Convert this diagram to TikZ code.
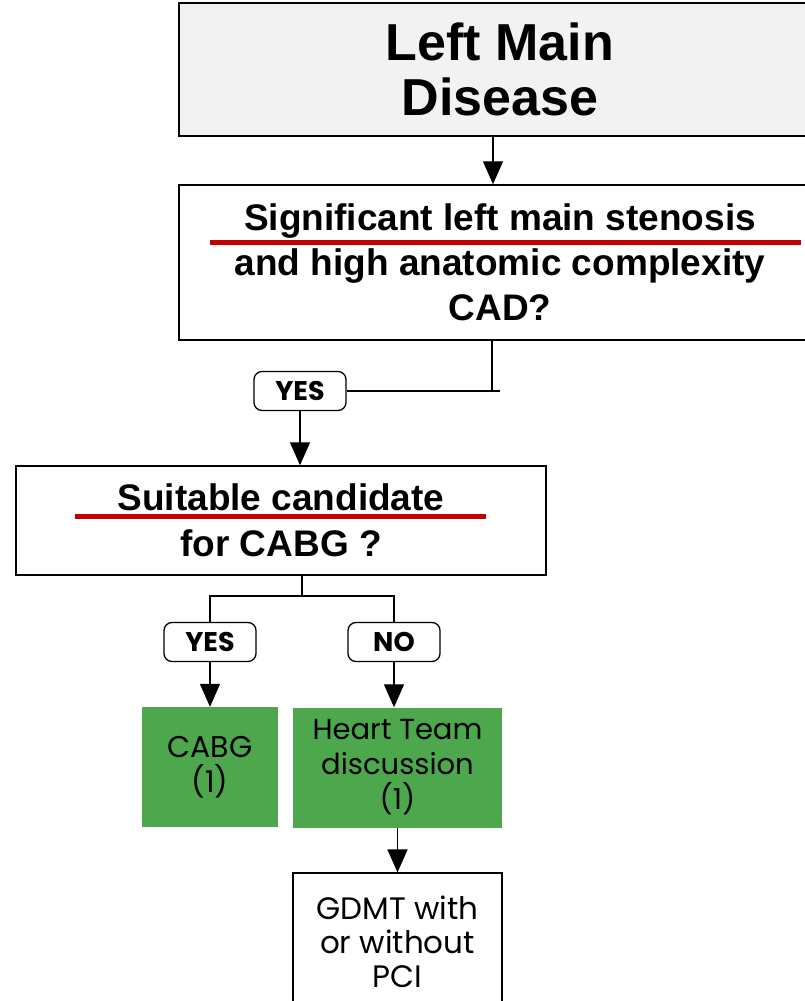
\documentclass[tikz,border=0pt]{standalone}
\usepackage{fontspec}
\setmainfont{Liberation Sans}
\newfontfamily\popfont{Poppins}
\usetikzlibrary{arrows.meta}
\definecolor{boxgray}{HTML}{F2F2F2}
\definecolor{boxgreen}{HTML}{4DA84D}
\definecolor{markred}{HTML}{C00000}
\tikzset{
  qbox/.style={draw, line width=1.5pt, align=center, inner sep=0pt,
    font=\bfseries\fontsize{37}{45}\selectfont},
  ansbox/.style={draw, line width=1.3pt, rounded corners=8pt, minimum width=92pt,
    minimum height=39pt, inner sep=0pt, font=\popfont\bfseries\fontsize{27}{30}\selectfont},
  greenbox/.style={fill=boxgreen, minimum height=120pt, align=center, inner sep=0pt,
    font=\popfont\fontsize{30}{35}\selectfont},
  arrow/.style={line width=1.3pt, -{Triangle[width=20pt,length=23pt]}},
  link/.style={line width=1.3pt},
  redline/.style={markred, line width=5pt}
}
\begin{document}
\begin{tikzpicture}[x=1pt, y=-1pt]
  \useasboundingbox (0,0) rectangle (805,1001);
  \clip (0,0) rectangle (805,1001);
  % Question boxes
  \node[qbox, fill=boxgray, minimum width=642pt, minimum height=133pt,
    font=\bfseries\fontsize{52}{55}\selectfont] (lmd) at (500,69.5) {Left Main\\Disease};
  \node[qbox, minimum width=642pt, minimum height=155pt] (stenosis) at (500,262.5)
    {Significant left main stenosis\\and high anatomic complexity\\CAD?};
  \node[ansbox] (yes1) at (300,391) {YES};
  \node[qbox, minimum width=530pt, minimum height=109pt,
    font=\bfseries\fontsize{37}{46}\selectfont] (suitable) at (281,520.5)
    {Suitable candidate\\for CABG ?};
  % Answers
  \node[ansbox] (yes2) at (210,642) {YES};
  \node[ansbox] (no) at (394,642) {NO};
  \node[greenbox, minimum width=136pt] (cabg) at (210,767) {CABG\\(1)};
  \node[greenbox, minimum width=209pt, font=\popfont\fontsize{29}{35}\selectfont]
    (team) at (397.5,767.5) {Heart Team\\discussion\\(1)};
  \node[qbox, line width=1.2pt, minimum width=209pt, minimum height=137pt,
    font=\popfont\fontsize{31}{34}\selectfont] (gdmt) at (397.5,941.5)
    {GDMT with\\or without\\PCI};
  \coordinate (split) at (302,596);
  % Connectors
  \draw[arrow] ([xshift=-7pt]lmd.south) -- ([xshift=-7pt]stenosis.north);
  \draw[link] ([xshift=-8pt]stenosis.south) |- (yes1.east);
  \draw[link] (yes1.east -| stenosis.south) ++(-8,0) -- ++(8,0);
  \draw[arrow] (yes1.south) -- (yes1.south |- suitable.north);
  \draw[link] (suitable.south -| split) -- (split);
  \draw[link] (yes2.north) |- (split) -| (no.north);
  \draw[arrow] (yes2) -- (cabg);
  \draw[arrow] (no.south) -- (no.south |- team.north);
  \draw[arrow] (team) -- (gdmt);
  % Red marks
  \draw[redline] (210,242) -- (801,242);
  \draw[redline] (75,516) -- (486,516);
\end{tikzpicture}
\end{document}
